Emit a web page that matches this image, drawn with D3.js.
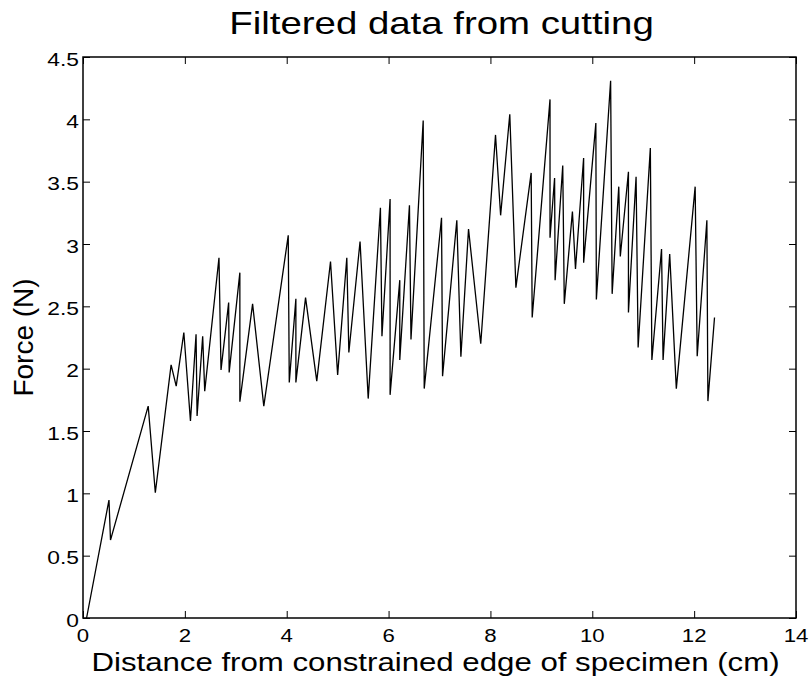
<!DOCTYPE html>
<html>
<head>
<meta charset="utf-8">
<script src="https://cdn.jsdelivr.net/npm/d3@7"></script>
<style>
  html, body { margin: 0; padding: 0; background: #fff; }
  svg { display: block; }
  text { font-family: "Liberation Sans", Arial, Helvetica, sans-serif; fill: #000; }
</style>
</head>
<body>
<svg id="chart" width="811" height="678"></svg>
<script>
// Distance from the constrained edge (cm) and measured cutting force (N)
const distance = [
  0.07, 0.51, 0.54, 1.28, 1.42, 1.73, 1.83, 1.98, 2.11, 2.22,
  2.24, 2.35, 2.39, 2.67, 2.71, 2.86, 2.87, 3.08, 3.08, 3.33,
  3.55, 4.03, 4.05, 4.18, 4.18, 4.37, 4.59, 4.86, 5.00, 5.18,
  5.22, 5.44, 5.60, 5.84, 5.87, 6.03, 6.03, 6.22, 6.22, 6.41,
  6.44, 6.68, 6.70, 7.04, 7.06, 7.34, 7.42, 7.57, 7.81, 8.10,
  8.20, 8.38, 8.50, 8.80, 8.82, 9.17, 9.17, 9.26, 9.27, 9.42,
  9.45, 9.61, 9.67, 9.83, 9.83, 10.07, 10.08, 10.36, 10.39, 10.52,
  10.55, 10.71, 10.71, 10.86, 10.90, 11.14, 11.17, 11.36, 11.39, 11.52,
  11.65, 12.02, 12.06, 12.25, 12.27, 12.40
];
const force = [
  0, 0.946, 0.625, 1.70, 1.005, 2.03, 1.86, 2.29, 1.58, 2.275,
  1.62, 2.26, 1.82, 2.89, 1.99, 2.53, 1.97, 2.77, 1.735, 2.52,
  1.70, 3.07, 1.89, 2.56, 1.89, 2.57, 1.90, 2.86, 1.95, 2.89,
  2.13, 3.02, 1.76, 3.29, 2.26, 3.36, 1.79, 2.71, 2.07, 3.31,
  2.235, 3.99, 1.84, 3.21, 1.94, 3.19, 2.095, 3.12, 2.20, 3.875,
  3.23, 4.04, 2.65, 3.57, 2.41, 4.16, 3.05, 3.53, 2.71, 3.63,
  2.52, 3.26, 2.80, 3.69, 2.85, 3.97, 2.555, 4.31, 2.60, 3.46,
  2.90, 3.58, 2.45, 3.54, 2.17, 3.77, 2.07, 2.96, 2.07, 2.92,
  1.84, 3.46, 2.10, 3.19, 1.74, 2.41
];
const xTicks = [0, 2, 4, 6, 8, 10, 12, 14];
const yTicks = [0, 0.5, 1, 1.5, 2, 2.5, 3, 3.5, 4, 4.5];

const titleText = "Filtered data from cutting";
const xLabelText = "Distance from constrained edge of specimen (cm)";
const yLabelText = "Force (N)";

const svg = d3.select("#chart");
const plotLeft = 83, plotRight = 796, plotTop = 57, plotBottom = 618;
const stretch = 1.2;   // horizontal text stretch
const tickLen = 7;

const x = d3.scaleLinear().domain([0, 14]).range([plotLeft, plotRight]);
const y = d3.scaleLinear().domain([0, 4.5]).range([plotBottom, plotTop]);

const fmt = d => String(d);

// data line
const line = d3.line().x(d => x(d[0])).y(d => y(d[1]));
svg.append("path")
  .datum(d3.zip(distance, force))
  .attr("d", line)
  .attr("fill", "none")
  .attr("stroke", "#000")
  .attr("stroke-width", 1.3)
  .attr("stroke-linejoin", "miter");

// axes with inward ticks on all four sides
const axisStyle = g => {
  g.select(".domain").remove();
  g.selectAll("line").attr("stroke", "#000").attr("stroke-width", 1);
};
svg.append("g").attr("transform", `translate(0,${plotBottom})`)
  .call(d3.axisTop(x).tickValues(xTicks).tickSize(tickLen).tickFormat(""))
  .call(axisStyle);
svg.append("g").attr("transform", `translate(0,${plotTop})`)
  .call(d3.axisBottom(x).tickValues(xTicks).tickSize(tickLen).tickFormat(""))
  .call(axisStyle);
svg.append("g").attr("transform", `translate(${plotLeft},0)`)
  .call(d3.axisRight(y).tickValues(yTicks).tickSize(tickLen).tickFormat(""))
  .call(axisStyle);
svg.append("g").attr("transform", `translate(${plotRight},0)`)
  .call(d3.axisLeft(y).tickValues(yTicks).tickSize(tickLen).tickFormat(""))
  .call(axisStyle);

// box
svg.append("rect")
  .attr("x", plotLeft).attr("y", plotTop)
  .attr("width", plotRight - plotLeft).attr("height", plotBottom - plotTop)
  .attr("fill", "none").attr("stroke", "#000").attr("stroke-width", 1.5);

// tick labels
svg.append("g").selectAll("text").data(xTicks).join("text")
  .attr("transform", d => `translate(${x(d)},${641.5}) scale(${stretch},1)`)
  .attr("text-anchor", "middle")
  .attr("font-size", 18.5)
  .text(fmt);

svg.append("g").selectAll("text").data(yTicks).join("text")
  .attr("transform", d => `translate(${plotLeft - 4},${y(d) + 8.5}) scale(${stretch},1)`)
  .attr("text-anchor", "end")
  .attr("font-size", 19)
  .text(fmt);

// title and axis labels
svg.append("text")
  .attr("transform", `translate(${(plotLeft + plotRight) / 2 + 2},${34}) scale(${stretch},1)`)
  .attr("text-anchor", "middle")
  .attr("font-size", 32)
  .text(titleText);

svg.append("text")
  .attr("transform", `translate(${(plotLeft + plotRight) / 2 - 4},${670.5}) scale(${stretch},1)`)
  .attr("text-anchor", "middle")
  .attr("font-size", 26)
  .text(xLabelText);

svg.append("text")
  .attr("transform", `translate(33,${(plotTop + plotBottom) / 2}) rotate(-90)`)
  .attr("text-anchor", "middle")
  .attr("font-size", 28)
  .text(yLabelText);
</script>
</body>
</html>
